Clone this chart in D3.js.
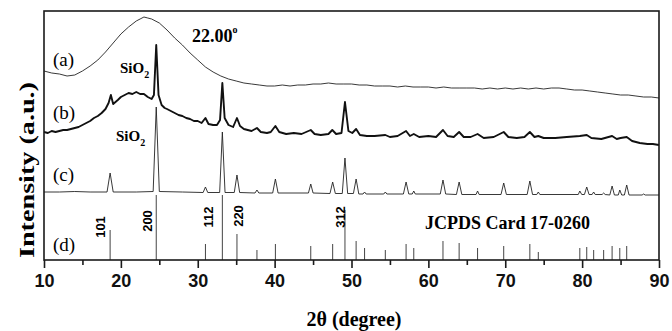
<!DOCTYPE html>
<html>
<head>
<meta charset="utf-8">
<script src="https://cdn.jsdelivr.net/npm/d3@7"></script>
<style>
  body { margin: 0; background: #fff; }
  svg { display: block; }
</style>
</head>
<body>
<svg id="chart" width="672" height="331"></svg>
<script>
// XRD patterns, intensity in arbitrary units (traces stacked with offsets)
const xTicks = [10, 20, 30, 40, 50, 60, 70, 80, 90];
const xMinor = [15, 25, 35, 45, 55, 65, 75, 85];

const traceA = [[10,189],[11,187],[12,186],[13,184],[14,185],[15,189],[16,194],[17,200],[18,208],[19,217],
  [20,226],[21,233],[22,239],[22.5,241],[23,243],[23.5,242],[24,241],[25,237],[26,230],[27,222],[28,215],
  [29,207],[30,200],[31,193],[32,188],[33,184],[34,181],[35,179],[36,177],[37,176],[38,175],[39,174],
  [40,174],[41,175],[42,174],[43,175],[44,175],[45,176],[46,176],[47,177],[48,176],[49,176],[50,176],
  [51,175],[52,175],[53,174],[54,174],[55,174],[56,173],[57,174],[58,173],[59,173],[60,173],[61,172],
  [62,173],[63,172],[64,172],[65,172],[66,172],[67,171],[68,172],[69,171],[70,172],[71,171],[72,172],
  [73,171],[74,172],[75,171],[76,172],[77,172],[78,171],[79,170],[80,170],[81,169],[82,168],[83,167],
  [84,166],[85,165],[86,165],[87,164],[88,163],[89,163],[90,162]];

const traceB = [[10,128],[10.5,127],[11,129],[11.5,128],[12,129],[12.5,130],[13,130],[13.5,131],[14,132],
  [14.5,133],[15,135],[15.5,137],[16,139],[16.5,142],[17,144],[17.5,147],[18,151],[18.4,157],[18.7,165],
  [19,156],[19.3,158],[19.6,160],[20,163],[20.5,165],[21,167],[21.5,166],[22,168],[22.5,166],[23,166],
  [23.5,163],[24,161],[24.3,165],[24.6,215],[24.9,165],[25.3,155],[25.7,152],[26,151],[26.5,149],[27,147],
  [27.5,145],[28,144],[28.5,142],[29,141],[29.5,139],[30,139],[30.5,137],[31,142],[31.4,136],[32,135],
  [32.5,135],[32.9,140],[33.2,177],[33.5,142],[34,135],[34.6,133],[35.1,142],[35.5,134],[36,131],
  [36.5,130],[37,129],[37.7,132],[38.2,128],[39,127],[39.5,128],[40.1,134],[40.6,128],[41.5,126],
  [42.5,127],[43.5,126],[44.7,130],[45.2,126],[46,125],[47,126],[47.5,130],[48,126],[48.7,127],
  [49.15,158],[49.6,129],[50.1,127],[50.6,131],[51.1,125],[52,124],[53,124],[54.4,125],[55,123],
  [56,124],[57.1,129],[57.6,124],[58.1,126],[58.8,123],[60,124],[61,123],[61.9,130],[62.5,124],
  [63.3,123],[64,128],[64.6,123],[65.5,123],[66.4,126],[67.2,122],[68.5,123],[69.8,128],[70.4,123],
  [71.5,122],[72.5,123],[73.2,128],[73.8,123],[74.3,124],[75,122],[76.5,122],[78,123],[79.7,124],
  [80.6,125],[81.2,122],[82.5,121],[83.9,124],[84.5,121],[85,122],[85.8,123],[86.5,119],[87.5,117],
  [88.5,116],[89.2,116],[90,115]];

const traceC = [[10,68],[12,68],[14,68.5],[16,68],[18.2,68],[18.6,87],[19,68],[22,68],[24.2,68.5],
  [24.6,153],[25,68.5],[28,68],[30.7,67.5],[31,73],[31.3,67.5],[32.85,67.5],[33.2,128],[33.55,67.5],
  [34.75,67.5],[35.1,85],[35.45,67.5],[37.45,67],[37.7,70],[37.95,67],[39.75,67],[40.1,81],[40.45,67],
  [42,67],[44.4,67],[44.7,76],[45,67],[47.2,66.5],[47.55,78],[47.9,66.5],[48.8,66.5],[49.15,102],
  [49.5,66.5],[50.25,66.5],[50.6,81],[50.95,66],[51.5,66],[51.7,68],[51.9,66],[54.2,66],[54.4,68],
  [54.6,66],[56.75,66],[57.1,78],[57.45,66],[57.9,66],[58.1,69],[58.3,66],[61.55,66],[61.9,80],
  [62.25,66],[63.65,65.5],[64,78],[64.35,65.5],[66.2,65.5],[66.4,69],[66.6,65.5],[69.45,65.5],[69.8,77],
  [70.15,65.5],[72.85,65.5],[73.2,79],[73.55,65.5],[74.1,65.5],[74.3,68],[74.5,65.5],[79.5,65.5],
  [79.7,69],[79.95,65.5],[80.3,65.5],[80.6,73],[80.9,65.5],[81.3,65.5],[81.5,68],[81.7,65.5],[82.6,65.5],
  [82.8,67],[83,65.5],[83.6,65],[83.9,74],[84.2,65],[84.7,65],[84.9,70],[85.15,65],[85.5,65],[85.8,75],
  [86.1,65],[87.8,65],[88,66],[88.2,65],[90,65]];

// JCPDS 17-0260 reference lines
const stickPos = [18.6, 24.6, 31.0, 33.2, 35.1, 37.7, 40.1, 44.7, 47.55, 49.15, 50.6, 51.7, 54.4, 57.1,
  58.1, 61.9, 64.0, 66.4, 69.8, 73.2, 74.3, 79.7, 80.6, 81.5, 82.8, 83.9, 84.9, 85.8];
const stickInt = [30, 65, 16, 65, 26, 10, 16, 14, 16, 50, 19, 12, 10, 16, 12, 19, 17, 12, 14, 16, 8,
  12, 13, 10, 10, 14, 12, 14];

const hklText = ['101', '200', '112', '220', '312'];
const hklPos = [18.6, 24.6, 31.0, 35.1, 49.15];
const traceNames = ['(a)', '(b)', '(c)', '(d)'];

const svg = d3.select('#chart');
const margin = { top: 11, right: 13, bottom: 71, left: 44 };
const W = 672, H = 331;

const x = d3.scaleLinear().domain([10, 90]).range([margin.left, W - margin.right]);
const y = d3.scaleLinear().domain([0, 249]).range([H - margin.bottom, margin.top]);

const line = d3.line().x(d => x(d[0])).y(d => y(d[1]));

svg.append('path').datum(traceA).attr('d', line)
  .attr('fill', 'none').attr('stroke', '#222').attr('stroke-width', 0.9);
svg.append('path').datum(traceB).attr('d', line)
  .attr('fill', 'none').attr('stroke', '#111').attr('stroke-width', 1.9).attr('stroke-linejoin', 'round');
svg.append('path').datum(traceC).attr('d', line)
  .attr('fill', 'none').attr('stroke', '#222').attr('stroke-width', 0.9);

svg.append('g').selectAll('line')
  .data(stickPos)
  .enter()
  .append('line')
  .attr('x1', d => x(d)).attr('x2', d => x(d))
  .attr('y1', y(0)).attr('y2', (d, i) => y(stickInt[i]))
  .attr('stroke', '#444').attr('stroke-width', 1);

// hkl labels, rotated; offsets from the line they name
const hklDx = [-10, -9, 3, 1, -5];
const hklY = [227, 221, 217, 216, 217];
svg.append('g').selectAll('text')
  .data(hklText)
  .enter()
  .append('text')
  .attr('transform', (d, i) => `translate(${x(hklPos[i]) + hklDx[i] + 5},${hklY[i]}) rotate(-90)`)
  .attr('text-anchor', 'middle')
  .style('font', 'bold 13px "Liberation Sans", Arial, sans-serif')
  .text(d => d);

// frame
svg.append('rect')
  .attr('x', margin.left).attr('y', margin.top)
  .attr('width', W - margin.left - margin.right).attr('height', H - margin.top - margin.bottom)
  .attr('fill', 'none').attr('stroke', '#1a1a1a').attr('stroke-width', 1.6);

const xAxis = svg.append('g')
  .attr('transform', `translate(0,${H - margin.bottom})`)
  .call(d3.axisBottom(x).tickValues(xTicks).tickSize(8).tickPadding(6).tickFormat(d3.format('d')));
xAxis.select('.domain').remove();
xAxis.selectAll('line').attr('stroke', '#1a1a1a').attr('stroke-width', 1.6);
xAxis.selectAll('text').attr('fill', '#111')
  .style('font', 'bold 18px "Liberation Sans", Arial, sans-serif');

const xMin = svg.append('g')
  .attr('transform', `translate(0,${H - margin.bottom})`)
  .call(d3.axisBottom(x).tickValues(xMinor).tickSize(5).tickFormat(''));
xMin.select('.domain').remove();
xMin.selectAll('line').attr('stroke', '#1a1a1a').attr('stroke-width', 1.6);

const serif = '"Liberation Serif", "Times New Roman", serif';

svg.append('text')
  .attr('x', 354).attr('y', 326)
  .attr('text-anchor', 'middle')
  .style('font', `bold 20px ${serif}`)
  .text('2θ (degree)');

svg.append('text')
  .attr('transform', 'translate(34,170) rotate(-90)')
  .attr('text-anchor', 'middle')
  .attr('textLength', 176).attr('lengthAdjust', 'spacingAndGlyphs')
  .style('font', `bold 22px ${serif}`)
  .text('Intensity (a.u.)');

const nameY = [66, 119, 181, 251];
svg.append('g').selectAll('text')
  .data(traceNames)
  .enter()
  .append('text')
  .attr('x', 53).attr('y', (d, i) => nameY[i])
  .style('font', `19px ${serif}`)
  .text(d => d);

function sio2(px, py) {
  const t = svg.append('text').attr('x', px).attr('y', py).style('font', `bold 15px ${serif}`);
  t.append('tspan').text('SiO');
  t.append('tspan').attr('dy', 5).style('font-size', '10px').text('2');
}
sio2(120, 73);
sio2(116, 141);

const peak = svg.append('text').attr('x', 192).attr('y', 42).style('font', `bold 18px ${serif}`);
peak.append('tspan').text('22.00');
peak.append('tspan').attr('dy', -9).style('font-size', '10px').text('o');

svg.append('text')
  .attr('x', 425).attr('y', 229)
  .style('font', `bold 18px ${serif}`)
  .text('JCPDS Card 17-0260');
</script>
</body>
</html>
